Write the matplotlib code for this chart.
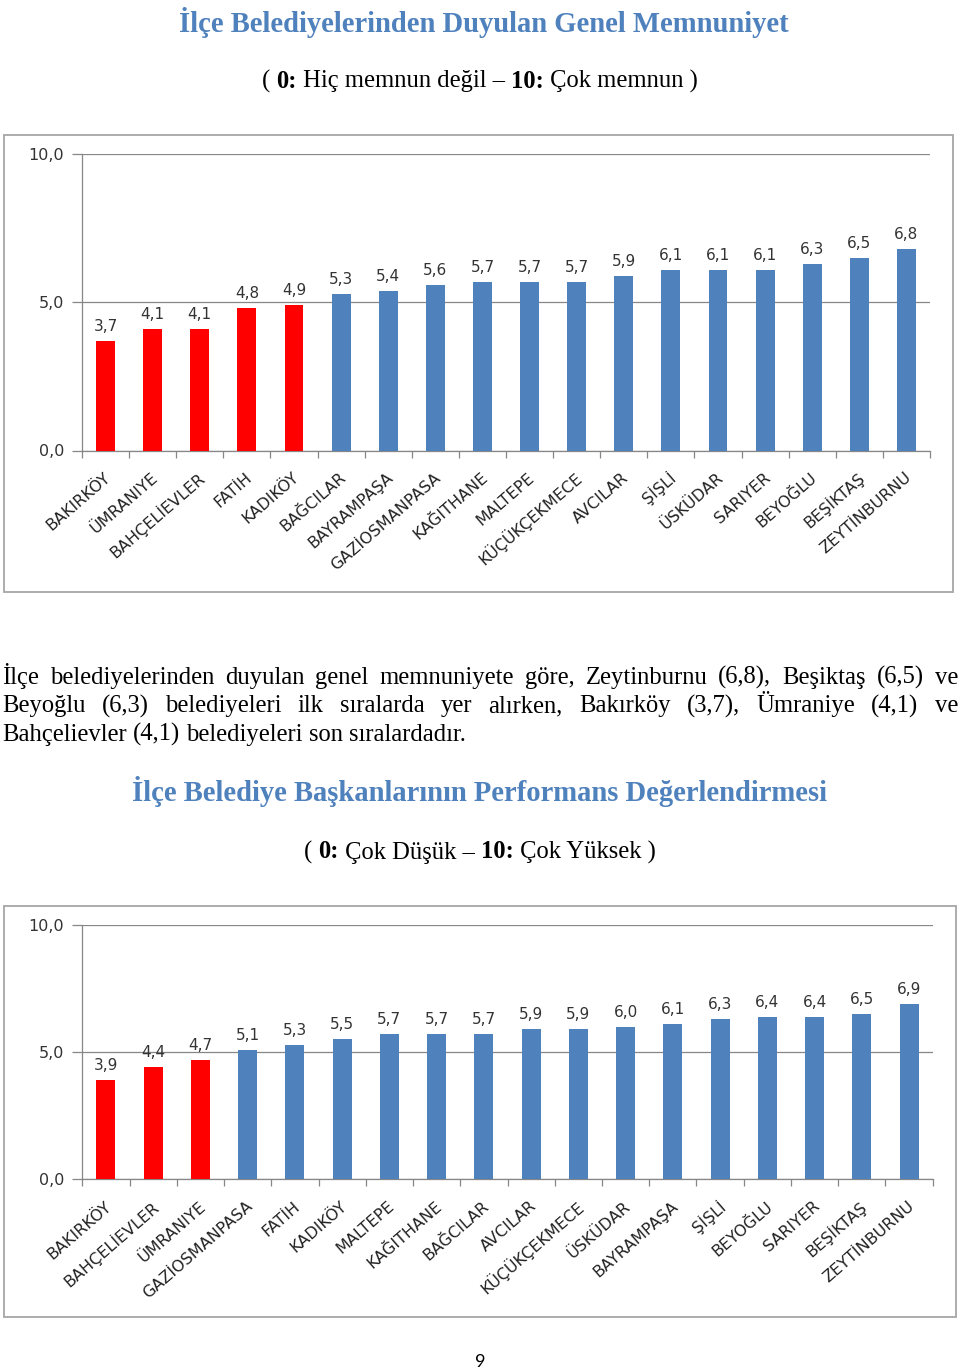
import matplotlib
matplotlib.use("Agg")
import matplotlib.pyplot as plt
from matplotlib.patches import Rectangle
from matplotlib.ticker import FixedLocator
from matplotlib.transforms import ScaledTranslation

# ---------------- data ----------------
districts_1 = ["BAKIRKÖY", "ÜMRANIYE", "BAHÇELİEVLER", "FATİH", "KADIKÖY", "BAĞCILAR",
               "BAYRAMPAŞA", "GAZİOSMANPASA", "KAĞITHANE", "MALTEPE", "KÜÇÜKÇEKMECE",
               "AVCILAR", "ŞİŞLİ", "ÜSKÜDAR", "SARIYER", "BEYOĞLU", "BEŞİKTAŞ", "ZEYTİNBURNU"]
satisfaction = [3.7, 4.1, 4.1, 4.8, 4.9, 5.3, 5.4, 5.6, 5.7, 5.7, 5.7, 5.9, 6.1, 6.1, 6.1, 6.3, 6.5, 6.8]

districts_2 = ["BAKIRKÖY", "BAHÇELİEVLER", "ÜMRANIYE", "GAZİOSMANPASA", "FATİH", "KADIKÖY",
               "MALTEPE", "KAĞITHANE", "BAĞCILAR", "AVCILAR", "KÜÇÜKÇEKMECE", "ÜSKÜDAR",
               "BAYRAMPAŞA", "ŞİŞLİ", "BEYOĞLU", "SARIYER", "BEŞİKTAŞ", "ZEYTİNBURNU"]
performance = [3.9, 4.4, 4.7, 5.1, 5.3, 5.5, 5.7, 5.7, 5.7, 5.9, 5.9, 6.0, 6.1, 6.3, 6.4, 6.4, 6.5, 6.9]

y_ticks = [0, 5, 10]
threshold = 5.0

title_1 = "İlçe Belediyelerinden Duyulan Genel Memnuniyet"
title_2 = "İlçe Belediye Başkanlarının Performans Değerlendirmesi"
sub_1 = [("( ", False), ("0:", True), (" Hiç memnun değil – ", False), ("10:", True), (" Çok memnun )", False)]
sub_2 = [("( ", False), ("0:", True), (" Çok Düşük – ", False), ("10:", True), (" Çok Yüksek )", False)]
para_lines = [
    "İlçe belediyelerinden duyulan genel memnuniyete göre, Zeytinburnu (6,8), Beşiktaş (6,5) ve",
    "Beyoğlu (6,3) belediyeleri ilk sıralarda yer alırken, Bakırköy (3,7), Ümraniye (4,1) ve",
    "Bahçelievler (4,1) belediyeleri son sıralardadır.",
]
page_no = "9"

# ---------------- style ----------------
W, H = 960, 1372
RED = "#FF0000"
BLUE = "#4F81BD"
TITLE_BLUE = "#4F81BD"
GRID = "#878787"
BOX = "#A6A6A6"
SERIF = "Liberation Serif"
SANS = "DejaVu Sans"

fig = plt.figure(figsize=(W / 100, H / 100), dpi=100)
fig.patch.set_facecolor("white")
renderer = fig.canvas.get_renderer()


def fx(px):
    return px / W


def fy(py):
    return 1 - py / H


def text_width(s, **kw):
    a = fig.text(0, 0, "x" + s + "x", **kw)
    b = fig.text(0, 0, "xx", **kw)
    w = a.get_window_extent(renderer).width - b.get_window_extent(renderer).width
    a.remove()
    b.remove()
    return w


def rich_centered(pieces, cx, y, size, color="black"):
    widths = [text_width(p, family=SERIF, size=size, weight="bold" if bld else "normal")
              for p, bld in pieces]
    x = cx - sum(widths) / 2
    for (p, bld), w in zip(pieces, widths):
        fig.text(fx(x), fy(y), p, family=SERIF, size=size, color=color,
                 weight="bold" if bld else "normal", ha="left", va="baseline")
        x += w


def justified(line, x0, x1, y, size, justify=True):
    words = line.split(" ")
    widths = [text_width(w, family=SERIF, size=size) for w in words]
    if justify and len(words) > 1:
        gap = (x1 - x0 - sum(widths)) / (len(words) - 1)
    else:
        gap = text_width(" ", family=SERIF, size=size)
    x = x0
    for w, wd in zip(words, widths):
        fig.text(fx(x), fy(y), w, family=SERIF, size=size, ha="left", va="baseline")
        x += wd + gap


def bar_chart(rect, names, values):
    ax = fig.add_axes(rect)
    xs = list(range(len(names)))
    colors = [RED if v < threshold else BLUE for v in values]
    ax.bar(xs, values, width=0.4, color=colors, zorder=3)
    ax.set_xlim(-0.5, len(names) - 0.5)
    ax.set_ylim(0, 10)
    ax.set_yticks(y_ticks)
    ax.set_yticklabels([f"{v:.1f}".replace(".", ",") for v in y_ticks],
                       family=SANS, size=11.5, color="#333333")
    ax.yaxis.grid(True, color=GRID, linewidth=0.9, zorder=0)
    ax.tick_params(axis="y", length=7, width=0.9, color=GRID, pad=6)
    ax.set_xticks(xs)
    ax.set_xticklabels(names, rotation=41, ha="right", va="center",
                       rotation_mode="anchor", family=SANS, size=11.5, color="#222222")
    ax.tick_params(axis="x", which="major", length=0, pad=18)
    ax.xaxis.set_minor_locator(FixedLocator([i - 0.5 for i in range(len(names) + 1)]))
    ax.tick_params(axis="x", which="minor", length=5, width=0.9, color=GRID)
    shift = ScaledTranslation(3 / 100, 0, fig.dpi_scale_trans)
    for lbl in ax.get_xticklabels():
        lbl.set_transform(lbl.get_transform() + shift)
    for s in ["top", "right"]:
        ax.spines[s].set_visible(False)
    for s in ["left", "bottom"]:
        ax.spines[s].set_color(GRID)
        ax.spines[s].set_linewidth(0.9)
    for x, v in zip(xs, values):
        ax.annotate(f"{v:.1f}".replace(".", ","), (x, v), xytext=(0, 5),
                    textcoords="offset points", ha="center", va="bottom",
                    family=SANS, size=11, color="#333333")
    ax.set_facecolor("none")
    return ax


# ---------------- boxes ----------------
fig.add_artist(Rectangle((fx(4), fy(592.5)), fx(953 - 4), (592.5 - 135) / H,
                         transform=fig.transFigure, fill=False, edgecolor=BOX, linewidth=1.3))
fig.add_artist(Rectangle((fx(4), fy(1316.5)), fx(956 - 4), (1316.5 - 906) / H,
                         transform=fig.transFigure, fill=False, edgecolor=BOX, linewidth=1.3))

# ---------------- charts ----------------
bar_chart([fx(82), fy(450.5), fx(930 - 82), (450.5 - 154.3) / H], districts_1, satisfaction)
bar_chart([fx(82.3), fy(1179.3), fx(932.7 - 82.3), (1179.3 - 925) / H], districts_2, performance)

# ---------------- texts ----------------
fig.text(fx(484), fy(31.5), title_1, family=SERIF, weight="bold", size=20.6,
         color=TITLE_BLUE, ha="center", va="baseline")
rich_centered(sub_1, 480, 87.5, 17.7)
for i, line in enumerate(para_lines):
    justified(line, 2, 958, 684 + i * 28.3, 17.7, justify=(i < len(para_lines) - 1))
fig.text(fx(480), fy(801.5), title_2, family=SERIF, weight="bold", size=20.6,
         color=TITLE_BLUE, ha="center", va="baseline")
rich_centered(sub_2, 480, 858.5, 17.7)
fig.text(fx(480), fy(1367), page_no, family="Lato", size=13, ha="center", va="baseline")

fig.savefig("out.png", dpi=100, facecolor="white")
